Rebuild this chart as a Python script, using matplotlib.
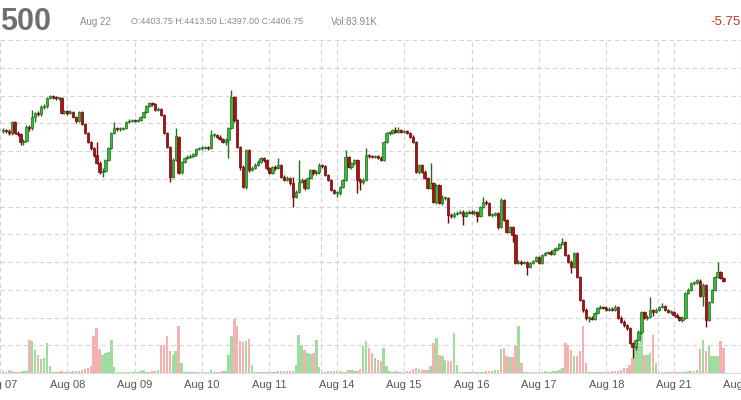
import matplotlib.pyplot as plt
import numpy as np

# hourly E-mini S&P 500 candles, Aug 07 .. Aug 22
opens = [4555, 4556, 4555, 4553, 4564, 4553, 4552, 4544, 4545, 4559,
         4558, 4569, 4573, 4572, 4579, 4580, 4588, 4590, 4589, 4588,
         4588, 4573, 4575, 4573, 4574, 4569, 4565, 4574, 4562, 4553,
         4544, 4538, 4531, 4523, 4514, 4515, 4526, 4538, 4553, 4558,
         4557, 4557, 4558, 4564, 4565, 4566, 4565, 4566, 4569, 4574,
         4580, 4583, 4582, 4576, 4577, 4571, 4553, 4539, 4509, 4526,
         4549, 4514, 4524, 4528, 4529, 4530, 4532, 4537, 4538, 4538,
         4539, 4538, 4551, 4551, 4549, 4547, 4544, 4546, 4558, 4589,
         4566, 4539, 4519, 4499, 4536, 4516, 4518, 4521, 4524, 4528,
         4526, 4518, 4513, 4519, 4518, 4521, 4509, 4506, 4508, 4503,
         4489, 4494, 4504, 4506, 4498, 4508, 4516, 4513, 4514, 4521,
         4520, 4511, 4506, 4496, 4493, 4493, 4499, 4506, 4529, 4519,
         4523, 4526, 4506, 4504, 4506, 4531, 4530, 4529, 4530, 4528,
         4526, 4544, 4553, 4553, 4556, 4554, 4556, 4554, 4555, 4553,
         4549, 4544, 4514, 4521, 4514, 4508, 4498, 4503, 4484, 4501,
         4483, 4488, 4488, 4471, 4470, 4472, 4473, 4474, 4470, 4473,
         4474, 4473, 4474, 4470, 4479, 4484, 4483, 4471, 4471, 4473,
         4459, 4486, 4466, 4454, 4459, 4451, 4423, 4424, 4423, 4424,
         4419, 4423, 4425, 4429, 4423, 4431, 4433, 4434, 4432, 4436,
         4438, 4442, 4444, 4431, 4424, 4419, 4433, 4409, 4386, 4376,
         4368, 4368, 4367, 4373, 4378, 4379, 4378, 4376, 4377, 4376,
         4379, 4368, 4364, 4361, 4358, 4343, 4339, 4346, 4354, 4374,
         4368, 4369, 4376, 4374, 4376, 4379, 4380, 4376, 4374, 4374,
         4371, 4369, 4366, 4368, 4393, 4396, 4403, 4403, 4405, 4390,
         4401, 4366, 4384, 4396, 4409, 4414, 4408]
highs = [4558, 4557, 4557, 4565, 4565, 4555, 4553, 4547, 4561, 4561,
         4576, 4574, 4575, 4581, 4582, 4589, 4591, 4591, 4590, 4589,
         4589, 4576, 4576, 4576, 4575, 4570, 4575, 4575, 4563, 4554,
         4545, 4539, 4544, 4525, 4518, 4527, 4539, 4554, 4564, 4559,
         4559, 4559, 4565, 4567, 4567, 4567, 4567, 4570, 4575, 4581,
         4584, 4584, 4583, 4579, 4578, 4572, 4554, 4540, 4528, 4558,
         4550, 4525, 4529, 4531, 4532, 4533, 4538, 4539, 4540, 4540,
         4540, 4556, 4553, 4552, 4551, 4548, 4548, 4559, 4596, 4590,
         4567, 4540, 4521, 4537, 4537, 4520, 4523, 4526, 4529, 4529,
         4527, 4519, 4520, 4521, 4528, 4522, 4511, 4510, 4509, 4509,
         4496, 4526, 4508, 4507, 4509, 4517, 4517, 4516, 4523, 4522,
         4521, 4512, 4507, 4497, 4495, 4500, 4507, 4536, 4530, 4524,
         4527, 4527, 4508, 4508, 4538, 4532, 4531, 4531, 4531, 4530,
         4545, 4554, 4555, 4557, 4559, 4559, 4557, 4556, 4556, 4554,
         4551, 4545, 4522, 4522, 4516, 4509, 4523, 4504, 4502, 4502,
         4491, 4490, 4489, 4473, 4474, 4475, 4476, 4476, 4475, 4476,
         4476, 4476, 4475, 4480, 4489, 4486, 4484, 4473, 4474, 4474,
         4488, 4487, 4467, 4460, 4460, 4452, 4426, 4426, 4425, 4425,
         4424, 4426, 4430, 4430, 4432, 4434, 4435, 4436, 4438, 4439,
         4443, 4448, 4445, 4432, 4426, 4434, 4434, 4410, 4387, 4378,
         4370, 4370, 4374, 4379, 4381, 4380, 4380, 4379, 4379, 4381,
         4380, 4370, 4366, 4362, 4359, 4344, 4347, 4356, 4375, 4375,
         4371, 4389, 4377, 4378, 4380, 4383, 4381, 4377, 4376, 4375,
         4373, 4370, 4370, 4394, 4398, 4404, 4405, 4407, 4407, 4403,
         4402, 4385, 4397, 4410, 4424, 4415, 4409]
lows = [4553, 4553, 4551, 4551, 4552, 4550, 4541, 4541, 4544, 4555,
        4556, 4564, 4570, 4570, 4577, 4578, 4587, 4587, 4586, 4586,
        4572, 4572, 4571, 4572, 4568, 4563, 4564, 4561, 4552, 4543,
        4536, 4529, 4522, 4512, 4509, 4514, 4525, 4537, 4552, 4555,
        4555, 4556, 4557, 4563, 4564, 4564, 4564, 4565, 4568, 4573,
        4579, 4580, 4575, 4575, 4570, 4552, 4538, 4504, 4508, 4525,
        4512, 4512, 4523, 4527, 4528, 4529, 4530, 4536, 4536, 4537,
        4536, 4537, 4549, 4548, 4546, 4543, 4541, 4528, 4557, 4564,
        4538, 4516, 4498, 4497, 4514, 4515, 4517, 4520, 4523, 4524,
        4516, 4512, 4512, 4516, 4517, 4508, 4505, 4505, 4501, 4479,
        4488, 4493, 4503, 4496, 4497, 4507, 4511, 4511, 4512, 4518,
        4510, 4505, 4495, 4492, 4489, 4491, 4498, 4505, 4518, 4517,
        4521, 4493, 4496, 4502, 4505, 4528, 4528, 4528, 4527, 4525,
        4525, 4543, 4551, 4552, 4553, 4553, 4553, 4553, 4552, 4548,
        4543, 4513, 4512, 4513, 4507, 4497, 4497, 4483, 4482, 4482,
        4481, 4486, 4463, 4468, 4468, 4471, 4472, 4461, 4469, 4472,
        4472, 4471, 4464, 4469, 4478, 4481, 4470, 4469, 4470, 4457,
        4458, 4465, 4453, 4453, 4444, 4422, 4422, 4421, 4422, 4411,
        4418, 4422, 4424, 4422, 4422, 4430, 4432, 4431, 4431, 4435,
        4437, 4441, 4430, 4423, 4413, 4418, 4408, 4385, 4374, 4366,
        4364, 4366, 4366, 4372, 4377, 4377, 4375, 4375, 4375, 4375,
        4367, 4363, 4359, 4356, 4342, 4328, 4336, 4345, 4352, 4367,
        4366, 4368, 4370, 4373, 4375, 4378, 4375, 4373, 4372, 4370,
        4368, 4365, 4364, 4367, 4392, 4395, 4401, 4402, 4389, 4380,
        4359, 4365, 4383, 4395, 4408, 4407, 4404]
closes = [4556, 4555, 4553, 4564, 4553, 4552, 4544, 4545, 4559, 4558,
          4569, 4573, 4572, 4579, 4580, 4588, 4590, 4589, 4588, 4588,
          4573, 4575, 4573, 4574, 4569, 4565, 4574, 4562, 4553, 4544,
          4538, 4531, 4523, 4514, 4515, 4526, 4538, 4553, 4558, 4557,
          4557, 4558, 4564, 4565, 4566, 4565, 4566, 4569, 4574, 4580,
          4583, 4582, 4576, 4577, 4571, 4553, 4539, 4509, 4526, 4550,
          4513, 4524, 4528, 4529, 4530, 4532, 4537, 4538, 4538, 4539,
          4538, 4551, 4551, 4549, 4547, 4544, 4546, 4558, 4589, 4566,
          4539, 4519, 4499, 4536, 4516, 4518, 4521, 4524, 4528, 4526,
          4518, 4513, 4519, 4518, 4521, 4509, 4506, 4508, 4503, 4489,
          4494, 4504, 4506, 4498, 4508, 4516, 4513, 4514, 4521, 4520,
          4511, 4506, 4496, 4493, 4493, 4499, 4506, 4529, 4519, 4523,
          4526, 4506, 4504, 4506, 4531, 4530, 4529, 4530, 4528, 4526,
          4544, 4553, 4553, 4556, 4554, 4556, 4554, 4555, 4553, 4549,
          4544, 4514, 4521, 4514, 4508, 4498, 4503, 4484, 4501, 4483,
          4488, 4488, 4471, 4470, 4472, 4473, 4474, 4470, 4473, 4474,
          4473, 4474, 4470, 4479, 4484, 4483, 4471, 4471, 4473, 4459,
          4486, 4466, 4454, 4459, 4451, 4423, 4424, 4423, 4424, 4419,
          4423, 4425, 4429, 4423, 4431, 4433, 4434, 4432, 4436, 4438,
          4442, 4444, 4431, 4424, 4419, 4433, 4409, 4386, 4376, 4368,
          4368, 4367, 4373, 4378, 4379, 4378, 4376, 4377, 4376, 4379,
          4368, 4364, 4361, 4358, 4343, 4339, 4346, 4354, 4374, 4368,
          4369, 4376, 4374, 4376, 4379, 4380, 4376, 4374, 4374, 4371,
          4369, 4366, 4368, 4393, 4396, 4403, 4403, 4406, 4390, 4401,
          4366, 4384, 4396, 4409, 4414, 4408, 4405]
# volume per hour, thousands of contracts
volumes = [4, 3, 6, 5, 3, 2, 3, 4, 4, 66,
           64, 46, 36, 28, 30, 60, 14, 3, 2, 2,
           4, 3, 2, 3, 4, 4, 5, 7, 8, 10,
           14, 74, 90, 48, 36, 40, 42, 66, 12, 2,
           2, 3, 2, 2, 3, 2, 2, 4, 6, 3,
           3, 4, 5, 6, 56, 56, 74, 44, 36, 44,
           94, 20, 3, 3, 2, 2, 3, 2, 3, 2,
           3, 6, 3, 2, 3, 4, 5, 36, 74, 108,
           94, 64, 62, 64, 68, 16, 3, 2, 2, 3,
           2, 2, 3, 3, 4, 4, 4, 4, 5, 5,
           16, 76, 56, 46, 40, 38, 40, 66, 12, 3,
           2, 4, 4, 4, 4, 4, 3, 3, 6, 6,
           4, 5, 8, 54, 64, 50, 40, 30, 26, 24,
           50, 14, 4, 3, 4, 3, 3, 3, 4, 5,
           8, 10, 8, 6, 6, 6, 14, 60, 70, 36,
           34, 26, 24, 24, 80, 16, 2, 2, 2, 2,
           3, 2, 2, 3, 3, 4, 4, 5, 6, 6,
           48, 50, 34, 32, 32, 54, 94, 20, 2, 2,
           2, 3, 2, 2, 3, 4, 3, 3, 4, 5,
           6, 10, 60, 56, 46, 34, 34, 44, 94, 20,
           3, 3, 2, 2, 3, 3, 2, 3, 4, 4,
           4, 6, 10, 10, 16, 30, 50, 60, 80, 36,
           36, 40, 76, 20, 3, 2, 2, 3, 2, 3,
           3, 2, 2, 3, 4, 4, 4, 6, 48, 66,
           44, 54, 34, 34, 34, 64, 50]

day_labels = ['Aug 07', 'Aug 08', 'Aug 09', 'Aug 10', 'Aug 11', 'Aug 14',
              'Aug 15', 'Aug 16', 'Aug 17', 'Aug 18', 'Aug 21', 'Aug 22']
day_pos = [-1, 22, 45, 68, 91, 114, 137, 160, 183, 206, 229, 252]  # candle index of midnight
week_open = [108.5, 223.5]  # sunday evening session starts

bar_date = 'Aug 22'
bar_ohlc = 'O:4403.75 H:4413.50 L:4397.00 C:4406.75'
bar_vol = 'Vol:83.91K'
change = '-5.75'

W, H = 741, 400
fig = plt.figure(figsize=(W / 100, H / 100), dpi=100)
fig.patch.set_facecolor('white')
ax = fig.add_axes([0, 27 / H, 1, 333 / H])
axv = ax.twinx()
ax.set_zorder(axv.get_zorder() + 1)
ax.patch.set_visible(False)

o = np.array(opens, float)
c = np.array(closes, float)
x = np.arange(len(c))
up = c >= o

up_body, up_edge = '#3cb83c', '#1f6f1f'
dn_body, dn_edge = '#a81414', '#6e0a0a'

# volume underneath
axv.bar(x, volumes, width=0.85, color=np.where(up, '#a0dba0', '#f5b0b0'), zorder=1)
axv.set_ylim(0, 666)
axv.axis('off')

# candles
ax.vlines(x, lows, highs, colors=np.where(up, up_edge, dn_edge), linewidth=1.0, zorder=3)
body = np.maximum(np.abs(c - o), 1.0)
ax.bar(x, body, bottom=np.minimum(o, c), width=0.82,
       color=np.where(up, up_body, dn_body), edgecolor=np.where(up, up_edge, dn_edge),
       linewidth=0.5, zorder=4)

ax.set_xlim(-0.2, 246.8)
ax.set_ylim(4313, 4646)
ax.set_yticks(np.linspace(4313, 4646, 13))
ax.set_xticks(day_pos)
ax.set_xticklabels(day_labels)
ax.grid(True, color='#d4d4d4', linestyle=(0, (4, 3)), linewidth=0.8, zorder=0)
for wx in week_open:
    ax.axvline(wx, color='#d4d4d4', linestyle=(0, (4, 3)), linewidth=0.8, zorder=0)
ax.tick_params(axis='y', left=False, labelleft=False)
ax.tick_params(axis='x', length=0, pad=5, labelsize=8, labelcolor='#555555')
for lab in ax.get_xticklabels():
    lab.set_family('Liberation Sans')
for side in ['top', 'left', 'right']:
    ax.spines[side].set_visible(False)
ax.spines['bottom'].set_color('#dddddd')

# header line
hy = 1 - 22 / H
fig.text(0, hy, '500', fontsize=22, fontweight='bold', color='#6f6f6f',
         family='Liberation Sans', va='center', ha='left')
fig.text(80 / W, hy, bar_date, fontsize=7, color='#8a8a8a',
         family='Liberation Sans', va='center', ha='left')
fig.text(131 / W, hy, bar_ohlc, fontsize=6.4, color='#8a8a8a',
         family='Liberation Sans', va='center', ha='left')
fig.text(331 / W, hy, bar_vol, fontsize=7, color='#8a8a8a',
         family='Liberation Sans', va='center', ha='left')
fig.text(1, hy, change, fontsize=9.5, color='#c0392b',
         family='Liberation Sans', va='center', ha='right')

fig.savefig('out.png', dpi=100)
